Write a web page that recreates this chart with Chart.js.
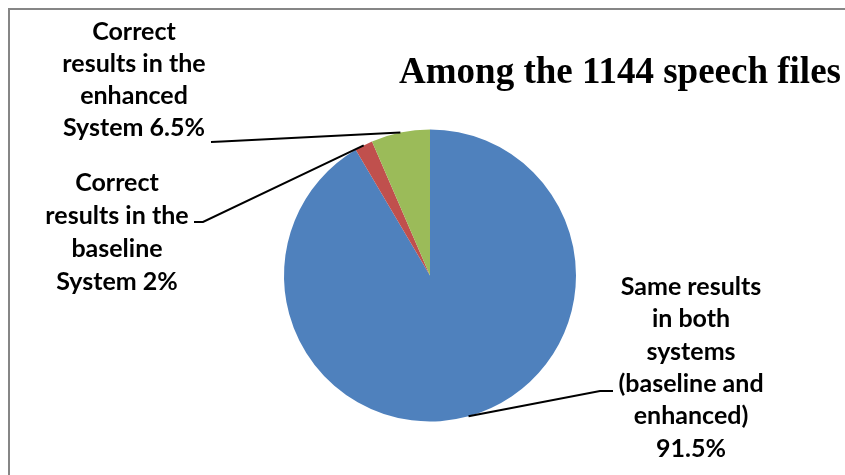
<!DOCTYPE html>
<html>
<head>
<meta charset="utf-8">
<script src="https://cdn.jsdelivr.net/npm/chart.js@4"></script>
<style>
  html, body { margin: 0; padding: 0; background: #fff; }
  #wrap { width: 845px; height: 475px; }
</style>
</head>
<body>
<div id="wrap"><canvas id="pieChart" width="845" height="475"></canvas></div>
<script>
const chartTitle = "Among the 1144 speech files";
const categories = [
  "Same results in both systems (baseline and enhanced)",
  "Correct results in the baseline System",
  "Correct results in the enhanced System"
];
const shares = [91.5, 2, 6.5];
const labelLines = [
  ["Same results", "in both", "systems", "(baseline and", "enhanced)", "91.5%"],
  ["Correct", "results in the", "baseline", "System 2%"],
  ["Correct", "results in the", "enhanced", "System 6.5%"]
];
const sliceColors = ["#4f81bd", "#c0504d", "#9bbb59"];

// where each label block sits and where its leader line ends
const labelPlace = [
  { cx: 691, top: 287, lh: 32.3, elbow: [600, 391], end: [613, 391] },
  { cx: 117, top: 183, lh: 33,   elbow: [203, 222], end: [194, 222] },
  { cx: 134, top: 32,  lh: 32,   elbow: [222, 141.5], end: [211, 142] }
];

const framePlugin = {
  id: "frame",
  beforeDraw(chart) {
    const ctx = chart.ctx;
    ctx.save();
    ctx.fillStyle = "#fff";
    ctx.fillRect(0, 0, chart.width, chart.height);
    ctx.strokeStyle = "#868686";
    ctx.lineWidth = 2;
    ctx.beginPath();
    ctx.moveTo(9, chart.height + 2);
    ctx.lineTo(9, 9);
    ctx.lineTo(chart.width + 2, 9);
    ctx.stroke();
    ctx.restore();
  }
};

const labelPlugin = {
  id: "outLabels",
  afterDraw(chart) {
    const ctx = chart.ctx;
    const arcs = chart.getDatasetMeta(0).data;
    ctx.save();
    // title
    ctx.fillStyle = "#000";
    ctx.font = "bold 37px 'Liberation Serif', 'Times New Roman', serif";
    ctx.textAlign = "center";
    ctx.textBaseline = "alphabetic";
    ctx.fillText(chartTitle, 620, 83);

    arcs.forEach((arc, i) => {
      const p = arc.getProps(["x", "y", "startAngle", "endAngle", "outerRadius"], true);
      const mid = (p.startAngle + p.endAngle) / 2;
      const ax = p.x + Math.cos(mid) * p.outerRadius;
      const ay = p.y + Math.sin(mid) * p.outerRadius;
      const lp = labelPlace[i];
      ctx.strokeStyle = "#000";
      ctx.lineWidth = 2;
      ctx.beginPath();
      ctx.moveTo(ax, ay);
      ctx.lineTo(lp.elbow[0], lp.elbow[1]);
      ctx.lineTo(lp.end[0], lp.end[1]);
      ctx.stroke();

      ctx.fillStyle = "#000";
      ctx.font = "bold 25px Lato, 'Open Sans', sans-serif";
      ctx.textAlign = "center";
      ctx.textBaseline = "middle";
      labelLines[i].forEach((t, k) => ctx.fillText(t, lp.cx, lp.top + k * lp.lh));
    });
    ctx.restore();
  }
};

new Chart(document.getElementById("pieChart"), {
  type: "pie",
  data: {
    labels: categories,
    datasets: [{
      data: shares,
      backgroundColor: sliceColors,
      borderWidth: 0
    }]
  },
  options: {
    responsive: false,
    animation: false,
    layout: { padding: { left: 284, right: 269, top: 129.5, bottom: 53.5 } },
    plugins: {
      legend: { display: false },
      tooltip: { enabled: false },
      title: { display: false }
    }
  },
  plugins: [framePlugin, labelPlugin]
});
</script>
</body>
</html>
